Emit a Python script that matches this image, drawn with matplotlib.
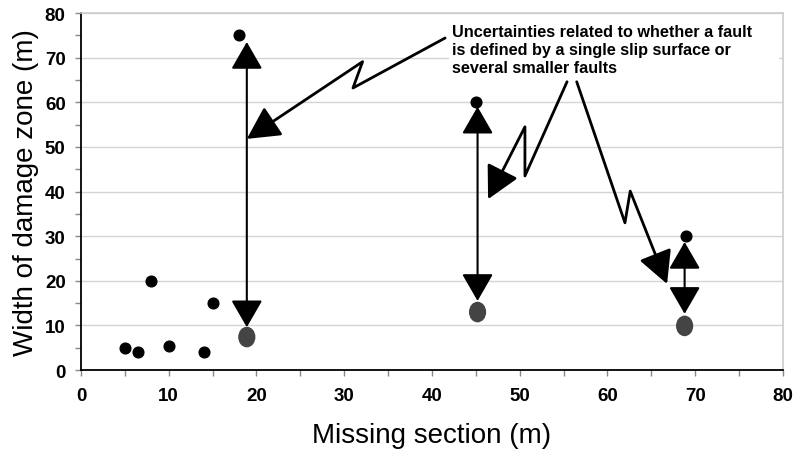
import matplotlib
matplotlib.use("Agg")
from matplotlib import pyplot as plt
from matplotlib.patches import FancyArrowPatch, Ellipse, Rectangle
from matplotlib.path import Path

plt.rcParams['font.family'] = ['Liberation Sans', 'DejaVu Sans']

# measured faults (black dots)
fault_x = [5, 6.5, 8, 10, 14, 15, 18, 45, 69]
fault_y = [5, 4, 20, 5.5, 4, 15, 75, 60, 30]

# alternative interpretation (grey ellipses)
alt_x = [18.9, 45.2, 68.8]
alt_y = [7.4, 13.0, 9.9]

# uncertainty ranges (double arrows)
range_x = [18.9, 45.2, 68.8]
range_lo = [9.6, 15.5, 12.6]
range_hi = [73.5, 59.0, 28.7]

# lightning-style pointers from the note
bolt_1 = [(41.5, 74.4), (31.0, 63.2), (32.1, 69.1), (18.9, 51.8)]
bolt_2 = [(55.4, 64.6), (50.6, 43.5), (50.6, 54.5), (46.4, 38.3)]
bolt_3 = [(56.5, 64.6), (62.0, 33.0), (62.6, 40.1), (66.8, 19.3)]

note = ("Uncertainties related to whether a fault\n"
        "is defined by a single slip surface or\n"
        "several smaller faults")

fig = plt.figure(figsize=(7.94, 4.52), dpi=100)
ax = fig.add_axes([0.102, 0.179, 0.884, 0.790])

ax.set_xlim(0, 80)
ax.set_ylim(0, 80)
ax.set_xticks(range(0, 81, 10))
ax.set_yticks(range(0, 81, 10))
ax.set_xticks(range(5, 80, 10), minor=True)
ax.set_yticks(range(5, 80, 10), minor=True)
ax.grid(True, axis='y', color='#d4d4d4', lw=1)
ax.set_axisbelow(True)

for s in ['top', 'right']:
    ax.spines[s].set_color('#cccccc')
    ax.spines[s].set_linewidth(1.2)
for s in ['left', 'bottom']:
    ax.spines[s].set_color('black')
    ax.spines[s].set_linewidth(1.3)

ax.tick_params(which='both', direction='out', length=4, color='#888888', width=1)
ax.tick_params(axis='x', pad=8)
ax.tick_params(axis='y', pad=7)
for lab in ax.get_xticklabels() + ax.get_yticklabels():
    lab.set_fontweight('bold')
    lab.set_fontsize(13.5)

ax.set_xlabel('Missing section (m)', fontsize=20, labelpad=13)
ax.set_ylabel('Width of damage zone (m)', fontsize=20, labelpad=4)

# double arrows
for x, lo, hi in zip(range_x, range_lo, range_hi):
    ax.add_patch(FancyArrowPatch((x, lo), (x, hi),
                                 arrowstyle='<|-|>,head_length=17,head_width=9.8',
                                 mutation_scale=1, color='black', lw=1.5,
                                 shrinkA=0, shrinkB=0, zorder=3))

# grey ellipses
for x, y in zip(alt_x, alt_y):
    ax.add_patch(Ellipse((x, y), width=1.8, height=4.3, color='#444444',
                         zorder=4))

ax.plot(fault_x, fault_y, 'o', color='black', ms=7.7, zorder=5)

# white area behind the note
ax.add_patch(Rectangle((41.9, 63.3), 37.7, 15.2, facecolor='white',
                       edgecolor='none', zorder=2))
ax.text(42.3, 77.45, note, fontsize=11.7, fontweight='bold', va='top',
        ha='left', linespacing=1.25, zorder=6)

for bolt in [bolt_1, bolt_2, bolt_3]:
    ax.add_patch(FancyArrowPatch(path=Path(bolt),
                                 arrowstyle='-|>,head_length=20,head_width=10.5',
                                 mutation_scale=1, color='black', lw=2,
                                 zorder=7))

fig.savefig('out.png', dpi=100)
